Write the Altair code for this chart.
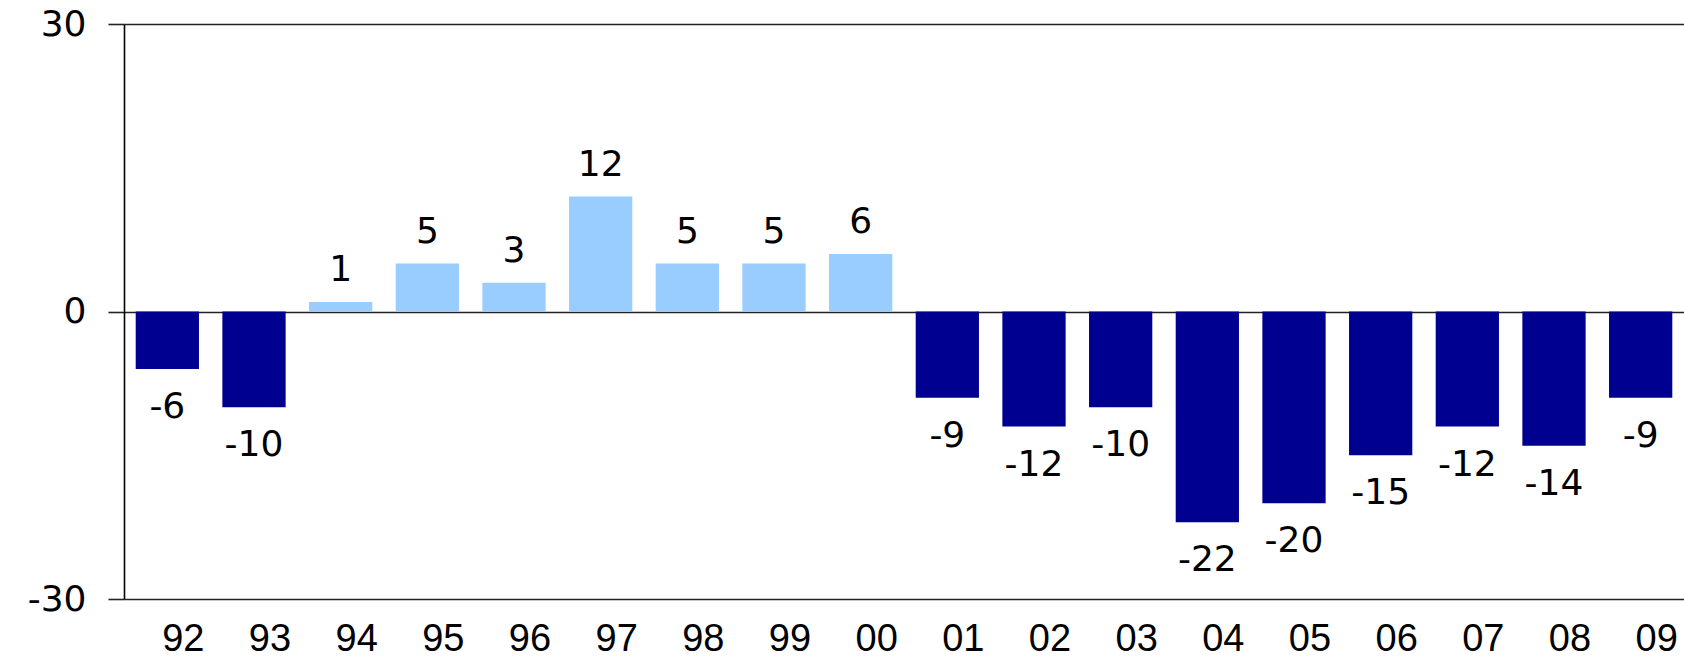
import altair as alt
import pandas as pd

years = ["92", "93", "94", "95", "96", "97", "98", "99", "00",
         "01", "02", "03", "04", "05", "06", "07", "08", "09"]
values = [-6, -10, 1, 5, 3, 12, 5, 5, 6,
          -9, -12, -10, -22, -20, -15, -12, -14, -9]

df = pd.DataFrame({"year": years, "value": values})
df["sign"] = ["pos" if v >= 0 else "neg" for v in values]

x_enc = alt.X(
    "year:N",
    sort=years,
    scale=alt.Scale(paddingInner=0.27, paddingOuter=0.135),
    axis=alt.Axis(
        title=None, domain=False, ticks=False, labelAngle=0,
        labelFont="Liberation Sans", labelFontSize=38, labelColor="#000000",
        labelPadding=21, labelOffset=16,
    ),
)
y_scale = alt.Scale(domain=[-30, 30], nice=False)

bars = alt.Chart(df).mark_bar().encode(
    x=x_enc,
    y=alt.Y(
        "value:Q",
        scale=y_scale,
        axis=alt.Axis(
            title=None, values=[-30, 0, 30], grid=True,
            gridColor="#222222", gridWidth=1.6, gridOpacity=1,
            domain=True, domainColor="#000000", domainWidth=1.6,
            ticks=True, tickSize=16, tickColor="#222222", tickWidth=1.6,
            labelFont="DejaVu Sans", labelFontSize=36, labelColor="#000000",
            labelPadding=22, labelExpr="toString(datum.value)",
        ),
    ),
    color=alt.Color(
        "sign:N",
        scale=alt.Scale(domain=["pos", "neg"], range=["#99CCFF", "#000090"]),
        legend=None,
    ),
)

base_text = alt.Chart(df).transform_calculate(label="toString(datum.value)")

pos_labels = base_text.transform_filter("datum.value >= 0").mark_text(
    font="DejaVu Sans", fontSize=36, color="#000000",
    baseline="alphabetic", align="center", dy=-21,
).encode(
    x=alt.X("year:N", sort=years),
    y=alt.Y("value:Q", scale=y_scale),
    text=alt.Text("label:N"),
)

neg_labels = base_text.transform_filter("datum.value < 0").mark_text(
    font="DejaVu Sans", fontSize=36, color="#000000",
    baseline="alphabetic", align="center", dy=49,
).encode(
    x=alt.X("year:N", sort=years),
    y=alt.Y("value:Q", scale=y_scale),
    text=alt.Text("label:N"),
)

chart = alt.layer(bars, pos_labels, neg_labels).properties(
    width=1560,
    height=575,
    autosize=alt.AutoSizeParams(type="none"),
    padding={"left": 124, "top": 24, "right": 0, "bottom": 64},
).configure_view(stroke=None).configure(background="white")

chart.save("out.html", embed_options={"renderer": "svg", "actions": False})
